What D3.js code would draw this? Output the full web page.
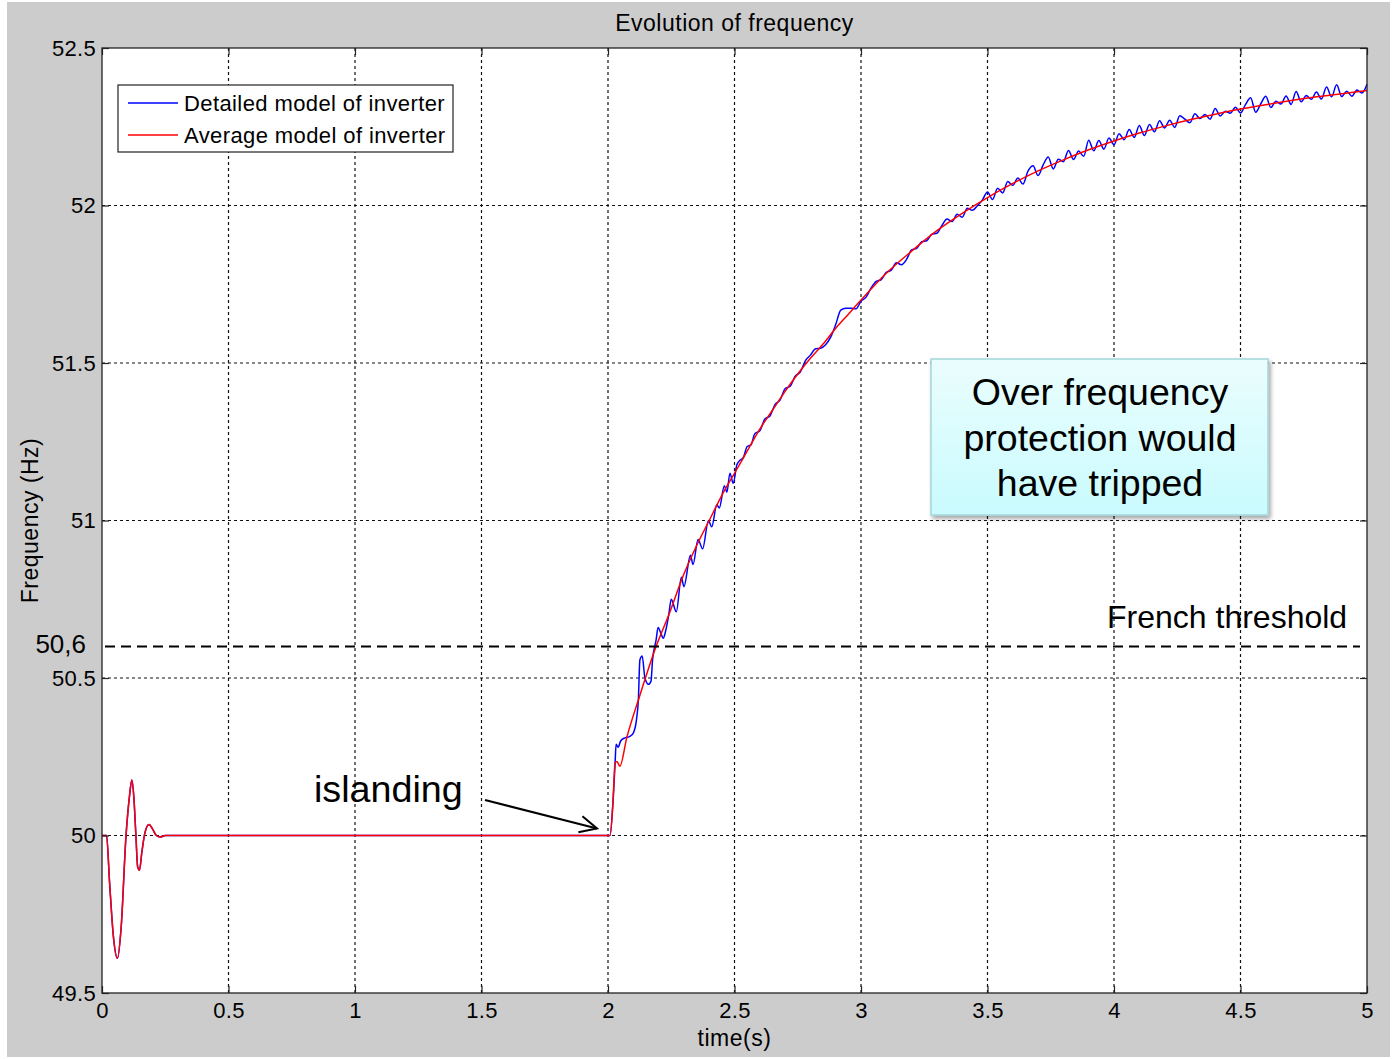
<!DOCTYPE html>
<html>
<head>
<meta charset="utf-8">
<script src="https://d3js.org/d3.v7.min.js"></script>
<style>
  body { margin: 0; background: #fff; }
  text { font-family: "Liberation Sans", Arial, Helvetica, sans-serif; fill: #000; }
</style>
</head>
<body>
<script>

//Tick values
var xTicks = [0, 0.5, 1, 1.5, 2, 2.5, 3, 3.5, 4, 4.5, 5];
var yTicks = [49.5, 50, 50.5, 51, 51.5, 52, 52.5];

var thresholdFreq = 50.6;
var islandingTime = 2;

//Start-up transient, both models on top of each other
var transientTime = [0, 0.018, 0.03, 0.045, 0.061, 0.075, 0.095, 0.108, 0.118, 0.126, 0.134, 0.141, 0.148, 0.158, 0.17, 0.186, 0.2, 0.215, 0.23, 0.25, 2.0];
var transientFreq = [50, 50, 49.85, 49.68, 49.61, 49.7, 50.0, 50.12, 50.176, 50.12, 50.0, 49.9, 49.89, 49.95, 50.01, 50.035, 50.02, 50.0, 49.995, 50.0, 50.0];

//Average model after islanding
var averageTime = [2.008, 2.02, 2.028, 2.035, 2.047, 2.074, 2.124, 2.19, 2.24, 2.30, 2.35, 2.40, 2.45, 2.50, 2.55, 2.60, 2.65, 2.70, 2.75, 2.80, 2.85, 2.90, 2.95, 3.00, 3.10, 3.20, 3.30, 3.40, 3.50, 3.60, 3.70, 3.80, 3.90, 4.00, 4.10, 4.20, 4.30, 4.40, 4.50, 4.60, 4.70, 4.80, 4.90, 5.00];
var averageFreq = [50.0, 50.11, 50.23, 50.235, 50.22, 50.31, 50.44, 50.60, 50.70, 50.83, 50.92, 51.00, 51.08, 51.15, 51.22, 51.29, 51.35, 51.41, 51.465, 51.515, 51.56, 51.61, 51.655, 51.70, 51.785, 51.855, 51.92, 51.975, 52.025, 52.07, 52.11, 52.145, 52.177, 52.205, 52.23, 52.252, 52.272, 52.29, 52.306, 52.32, 52.333, 52.345, 52.355, 52.365];

//Detailed model after islanding (irregular part)
var detailedTime = [2.008, 2.02, 2.028, 2.032, 2.04, 2.05, 2.067, 2.087, 2.1, 2.113, 2.12, 2.126, 2.135, 2.146, 2.16, 2.17, 2.176, 2.19, 2.198, 2.21, 2.218, 2.228, 2.24, 2.25, 2.27, 2.29, 2.3, 2.326, 2.336, 2.356, 2.374, 2.397, 2.41, 2.43, 2.44, 2.46, 2.47, 2.482, 2.495, 2.509, 2.52, 2.535, 2.55, 2.565, 2.58];
var detailedFreq = [50.0, 50.11, 50.23, 50.29, 50.28, 50.30, 50.31, 50.315, 50.325, 50.37, 50.43, 50.557, 50.57, 50.50, 50.48, 50.49, 50.557, 50.62, 50.66, 50.64, 50.626, 50.65, 50.70, 50.75, 50.71, 50.82, 50.79, 50.89, 50.86, 50.94, 50.91, 51.00, 50.98, 51.05, 51.04, 51.11, 51.09, 51.15, 51.118, 51.176, 51.19, 51.20, 51.235, 51.24, 51.275];

//Detailed model, sampled every 0.02 s from 2.6 s to 5 s
var rippleStart = 2.6;
var rippleStep = 0.02;
var rippleFreq = [
  51.285, 51.322, 51.332, 51.368, 51.382, 51.418, 51.426, 51.458, 51.471, 51.507,
  51.525, 51.545, 51.547, 51.558, 51.582, 51.622, 51.668, 51.674, 51.674, 51.672,
  51.696, 51.709, 51.738, 51.759, 51.765, 51.788, 51.795, 51.818, 51.812, 51.829,
  51.859, 51.864, 51.885, 51.888, 51.909, 51.912, 51.937, 51.957, 51.949, 51.972,
  51.963, 51.991, 51.985, 51.999, 52.018, 52.043, 52.019, 52.055, 52.040, 52.076,
  52.064, 52.087, 52.068, 52.109, 52.126, 52.095, 52.129, 52.154, 52.116, 52.147,
  52.139, 52.175, 52.146, 52.173, 52.156, 52.207, 52.174, 52.206, 52.179, 52.214,
  52.193, 52.228, 52.209, 52.241, 52.216, 52.254, 52.222, 52.257, 52.234, 52.269,
  52.246, 52.271, 52.248, 52.285, 52.274, 52.263, 52.291, 52.276, 52.289, 52.274,
  52.308, 52.284, 52.299, 52.293, 52.312, 52.294, 52.321, 52.342, 52.296, 52.323,
  52.347, 52.311, 52.331, 52.322, 52.348, 52.321, 52.362, 52.329, 52.349, 52.337,
  52.360, 52.338, 52.376, 52.345, 52.383, 52.346, 52.363, 52.347, 52.367, 52.357,
  52.385
];

var legendLabels = ["Detailed model of inverter", "Average model of inverter"];
var legendColors = ["#0000ff", "#ff0000"];
var noteLines = ["Over frequency", "protection would", "have tripped"];

//Width and height
var w = 1394;
var h = 1059;
var plot = {left: 102, right: 1367, top: 48, bottom: 993};

var svg = d3.select("body")
            .append("svg")
            .attr("width", w)
            .attr("height", h);

var defs = svg.append("defs");
var grad = defs.append("linearGradient")
               .attr("id", "noteFill")
               .attr("x1", 0).attr("y1", 0).attr("x2", 0).attr("y2", 1);
grad.append("stop").attr("offset", "0%").attr("stop-color", "#ebfdfd");
grad.append("stop").attr("offset", "100%").attr("stop-color", "#c9fbfe");
defs.append("filter")
    .attr("id", "shadow")
    .attr("x", "-10%").attr("y", "-10%").attr("width", "125%").attr("height", "130%")
    .append("feDropShadow")
    .attr("dx", 2).attr("dy", 3).attr("stdDeviation", 2)
    .attr("flood-color", "#000").attr("flood-opacity", 0.35);

//Figure background
svg.append("rect")
   .attr("x", 7).attr("y", 2)
   .attr("width", 1383).attr("height", 1055)
   .style("fill", "#cccccc");

//Scales
var x = d3.scaleLinear().domain([0, 5]).range([plot.left, plot.right]);
var y = d3.scaleLinear().domain([49.5, 52.5]).range([plot.bottom, plot.top]);

svg.append("rect")
   .attr("x", plot.left).attr("y", plot.top)
   .attr("width", plot.right - plot.left).attr("height", plot.bottom - plot.top)
   .style("fill", "#fff");

//Dotted grid
svg.append("g").selectAll("line")
   .data(xTicks.slice(1, -1))
   .enter().append("line")
   .attr("x1", function(d) { return x(d); }).attr("x2", function(d) { return x(d); })
   .attr("y1", plot.top).attr("y2", plot.bottom)
   .style("stroke", "#111").style("stroke-width", 1.2).style("stroke-dasharray", "3,3");

svg.append("g").selectAll("line")
   .data(yTicks.slice(1, -1))
   .enter().append("line")
   .attr("y1", function(d) { return y(d); }).attr("y2", function(d) { return y(d); })
   .attr("x1", plot.left).attr("x2", plot.right)
   .style("stroke", "#111").style("stroke-width", 1.2).style("stroke-dasharray", "3,3");

//Build series
var transient = transientTime.map(function(t, i) { return [t, transientFreq[i]]; });
var average = transient.concat(averageTime.map(function(t, i) { return [t, averageFreq[i]]; }));
var detailed = transient.concat(detailedTime.map(function(t, i) { return [t, detailedFreq[i]]; }))
                        .concat(rippleFreq.map(function(f, i) { return [rippleStart + i * rippleStep, f]; }));

var line = d3.line()
             .x(function(d) { return x(d[0]); })
             .y(function(d) { return y(d[1]); })
             .curve(d3.curveMonotoneX);

svg.append("path")
   .datum(detailed)
   .attr("d", line)
   .style("fill", "none").style("stroke", legendColors[0]).style("stroke-width", 1.5);

svg.append("path")
   .datum(average)
   .attr("d", line)
   .style("fill", "none").style("stroke", legendColors[1]).style("stroke-width", 1.5);

//Axes with inward ticks
function styleAxis(g) {
  g.select(".domain").remove();
  g.selectAll(".tick line").style("stroke", "#222").style("stroke-width", 1.2);
  g.selectAll("text")
   .style("font-size", "22px")
   .style("letter-spacing", "0.3px")
   .style("font-family", "'Liberation Sans', Arial, sans-serif");
}

svg.append("g")
   .attr("transform", "translate(0," + plot.bottom + ")")
   .call(d3.axisBottom(x).tickValues(xTicks).tickSizeInner(-7).tickSizeOuter(0).tickPadding(9).tickFormat(d3.format("")))
   .call(styleAxis);

svg.append("g")
   .attr("transform", "translate(0," + plot.top + ")")
   .call(d3.axisTop(x).tickValues(xTicks).tickSizeInner(-7).tickSizeOuter(0).tickFormat(""))
   .call(styleAxis);

svg.append("g")
   .attr("transform", "translate(" + plot.left + ",0)")
   .call(d3.axisLeft(y).tickValues(yTicks).tickSizeInner(-7).tickSizeOuter(0).tickPadding(6).tickFormat(d3.format("")))
   .call(styleAxis);

svg.append("g")
   .attr("transform", "translate(" + plot.right + ",0)")
   .call(d3.axisRight(y).tickValues(yTicks).tickSizeInner(-7).tickSizeOuter(0).tickFormat(""))
   .call(styleAxis);

svg.append("rect")
   .attr("x", plot.left).attr("y", plot.top)
   .attr("width", plot.right - plot.left).attr("height", plot.bottom - plot.top)
   .style("fill", "none").style("stroke", "#222").style("stroke-width", 1.3);

//Titles
svg.append("text")
   .attr("x", (plot.left + plot.right) / 2).attr("y", 31)
   .attr("text-anchor", "middle")
   .style("font-size", "23px").style("letter-spacing", "0.5px")
   .text("Evolution of frequency");

svg.append("text")
   .attr("x", (plot.left + plot.right) / 2).attr("y", 1046)
   .attr("text-anchor", "middle")
   .style("font-size", "23px").style("letter-spacing", "0.5px")
   .text("time(s)");

svg.append("text")
   .attr("transform", "translate(38," + ((plot.top + plot.bottom) / 2) + ") rotate(-90)")
   .attr("text-anchor", "middle")
   .style("font-size", "23px").style("letter-spacing", "0.5px")
   .text("Frequency (Hz)");

//Legend
var legend = svg.append("g");
legend.append("rect")
      .attr("x", 118).attr("y", 85).attr("width", 335).attr("height", 67)
      .style("fill", "#fff").style("stroke", "#222").style("stroke-width", 1.2);
var items = legend.selectAll("g.item")
                  .data(legendLabels)
                  .enter().append("g")
                  .attr("transform", function(d, i) { return "translate(0," + (103 + i * 32) + ")"; });
items.append("line")
     .attr("x1", 128).attr("x2", 178)
     .style("stroke", function(d, i) { return legendColors[i]; }).style("stroke-width", 1.4);
items.append("text")
     .attr("x", 184).attr("y", 8)
     .style("font-size", "22px").style("letter-spacing", "0.4px")
     .text(function(d) { return d; });

//French threshold
svg.append("line")
   .attr("x1", x(0) + 3).attr("x2", x(5) - 7)
   .attr("y1", y(thresholdFreq)).attr("y2", y(thresholdFreq))
   .style("stroke", "#000").style("stroke-width", 2).style("stroke-dasharray", "10,6");

svg.append("text")
   .attr("x", 86).attr("y", y(thresholdFreq) + 6)
   .attr("text-anchor", "end")
   .style("font-size", "26px")
   .text("50,6");

svg.append("text")
   .attr("x", 1107).attr("y", y(thresholdFreq) - 19)
   .style("font-size", "32px")
   .text("French threshold");

//Islanding annotation
var tip = [x(islandingTime) - 11, y(50) - 7];
var tail = [485, 800];
svg.append("text")
   .attr("x", 314).attr("y", 802)
   .style("font-size", "37.7px")
   .text("islanding");

var ang = Math.atan2(tip[1] - tail[1], tip[0] - tail[0]);
var head = 19, spread = 0.45;
svg.append("line")
   .attr("x1", tail[0]).attr("y1", tail[1]).attr("x2", tip[0]).attr("y2", tip[1])
   .style("stroke", "#000").style("stroke-width", 2);
svg.append("path")
   .attr("d", "M" + (tip[0] - head * Math.cos(ang - spread)) + "," + (tip[1] - head * Math.sin(ang - spread)) +
              "L" + tip[0] + "," + tip[1] +
              "L" + (tip[0] - head * Math.cos(ang + spread)) + "," + (tip[1] - head * Math.sin(ang + spread)))
   .style("fill", "none").style("stroke", "#000").style("stroke-width", 2);

//Over frequency note
var note = svg.append("g");
note.append("rect")
    .attr("x", 931).attr("y", 359).attr("width", 337).attr("height", 156)
    .attr("filter", "url(#shadow)")
    .style("fill", "url(#noteFill)").style("stroke", "#a3d6da").style("stroke-width", 1.5);
note.selectAll("text")
    .data(noteLines)
    .enter().append("text")
    .attr("x", 1100).attr("y", function(d, i) { return 405 + i * 45.5; })
    .attr("text-anchor", "middle")
    .style("font-size", "37.5px")
    .text(function(d) { return d; });

</script>
</body>
</html>
